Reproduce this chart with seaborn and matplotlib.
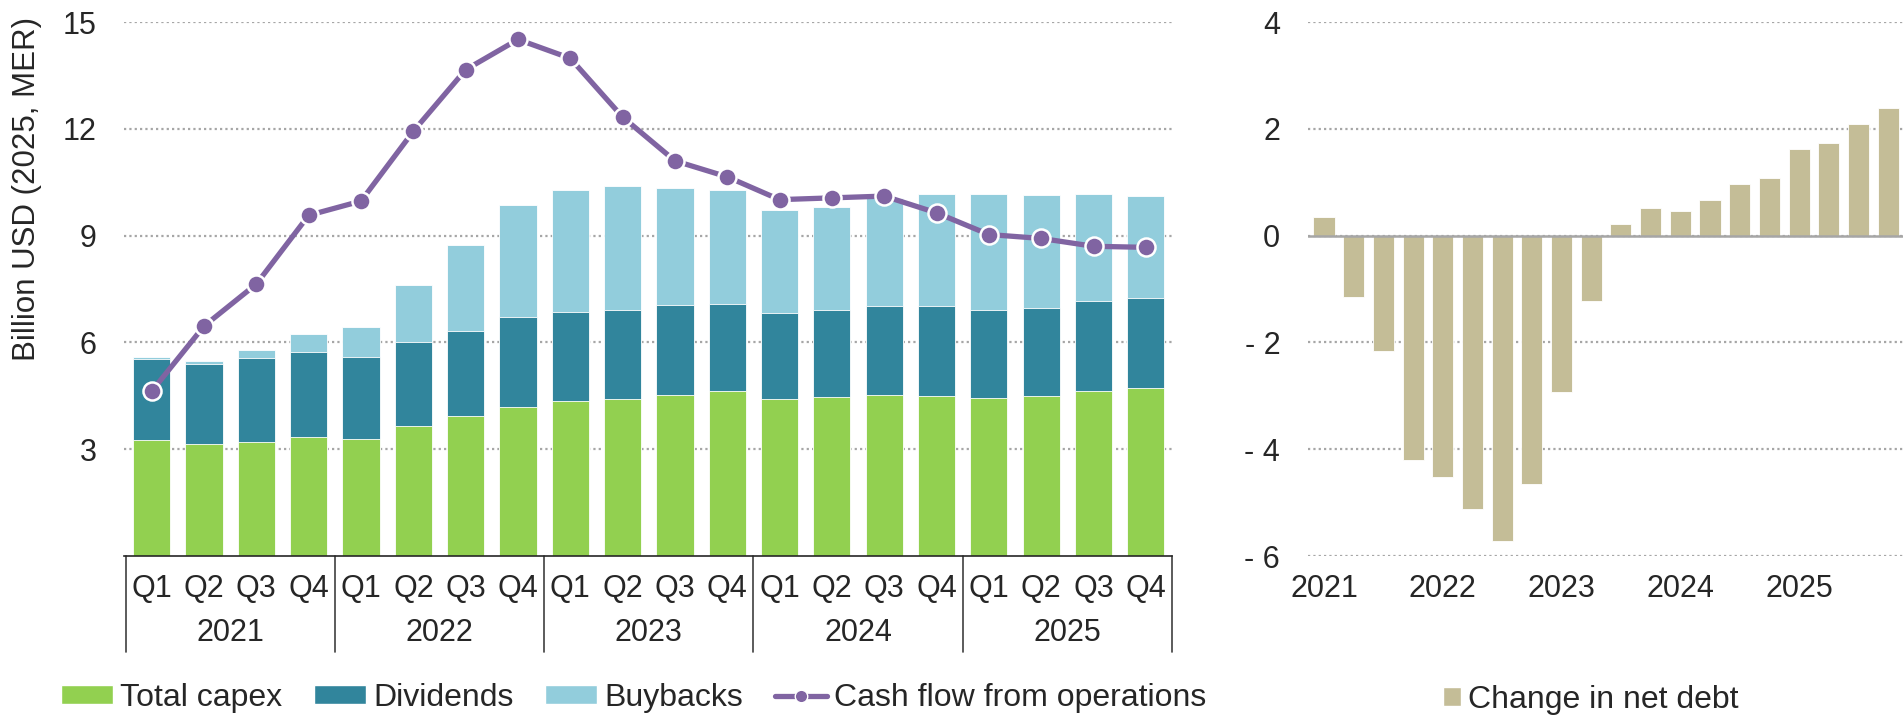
import numpy as np
import pandas as pd
import seaborn as sns
import matplotlib.pyplot as plt
from matplotlib.patches import Patch
from matplotlib.lines import Line2D

years = ["2021", "2022", "2023", "2024", "2025"]
quarters = ["Q1", "Q2", "Q3", "Q4"]

capex = [3.25, 3.15, 3.20, 3.34, 3.29, 3.66, 3.93, 4.18, 4.34, 4.40,
         4.51, 4.63, 4.41, 4.46, 4.53, 4.49, 4.44, 4.50, 4.63, 4.71]
dividends = [2.29, 2.25, 2.37, 2.39, 2.29, 2.35, 2.38, 2.54, 2.51, 2.51,
             2.55, 2.45, 2.42, 2.45, 2.49, 2.53, 2.47, 2.48, 2.52, 2.55]
buybacks = [0.06, 0.07, 0.23, 0.50, 0.85, 1.60, 2.42, 3.13, 3.44, 3.48,
            3.29, 3.19, 2.90, 2.89, 3.05, 3.16, 3.25, 3.17, 3.03, 2.86]
cash_flow_ops = [4.63, 6.46, 7.64, 9.57, 9.97, 11.93, 13.66, 14.51, 13.98, 12.33,
                 11.10, 10.65, 10.01, 10.06, 10.11, 9.64, 9.03, 8.92, 8.70, 8.67]
net_debt_change = [0.34, -1.15, -2.16, -4.20, -4.52, -5.12, -5.71, -4.66, -2.92, -1.23,
                   0.22, 0.51, 0.46, 0.67, 0.96, 1.07, 1.63, 1.74, 2.09, 2.39]

GREEN = "#92D050"
TEAL = "#31859C"
LIGHT = "#92CDDC"
PURPLE = "#8064A2"
TAN = "#C4BD97"
GRID = "#A6A6A6"

sns.set_theme(style="white")
plt.rcParams["font.family"] = ["Liberation Sans", "DejaVu Sans"]
plt.rcParams["font.size"] = 22

keys = [f"{y} {q}" for y in years for q in quarters]
df = pd.DataFrame({"period": keys, "capex": capex, "dividends": dividends,
                   "buybacks": buybacks, "cfo": cash_flow_ops, "debt": net_debt_change})
df["lvl2"] = df["capex"] + df["dividends"]
df["lvl3"] = df["lvl2"] + df["buybacks"]

fig = plt.figure(figsize=(19.03, 7.15), dpi=100)
ax = fig.add_axes([124 / 1903, 159 / 715, (1172 - 124) / 1903, 534 / 715])
ax2 = fig.add_axes([1308 / 1903, 159 / 715, (1903 - 1308) / 1903, 534 / 715])

# stacked bars, drawn from the top of the stack down
for col, c in [("lvl3", LIGHT), ("lvl2", TEAL), ("capex", GREEN)]:
    sns.barplot(data=df, x="period", y=col, order=keys, color=c, saturation=1,
                width=0.71, errorbar=None, edgecolor="white", linewidth=0.6, ax=ax, zorder=2)

ax.plot(np.arange(len(keys)), df["cfo"], color=PURPLE, lw=3.8, marker="o", markersize=13,
        markeredgecolor="white", markeredgewidth=1.8, zorder=4, clip_on=False)

ax.set_xlim(-0.53, 19.5)
ax.set_ylim(0, 15)
ax.set_yticks([3, 6, 9, 12, 15])
ax.yaxis.grid(True, color=GRID, linestyle=(0, (1, 1.4)), lw=1.6, zorder=0)
ax.set_axisbelow(True)
ax.set_xticks(range(len(keys)))
ax.set_xticklabels(quarters * len(years))
ax.tick_params(axis="both", length=0, labelsize=22)
ax.tick_params(axis="y", pad=19.5)
ax.tick_params(axis="x", pad=13)
ax.set_xlabel("")
ax.set_ylabel("Billion USD (2025, MER)", fontsize=22.5)
ax.yaxis.set_label_coords(-0.078, 0.687)
for s in ["left", "right", "top"]:
    ax.spines[s].set_visible(False)
ax.spines["bottom"].set_color("#262626")
ax.spines["bottom"].set_linewidth(1.2)

# year boxes below the quarters
trans = ax.get_xaxis_transform()
for i in range(len(years) + 1):
    ax.plot([i * 4 - 0.5, i * 4 - 0.5], [0, -0.18], transform=trans, color="#404040",
            lw=1.2, clip_on=False)
for i, y in enumerate(years):
    ax.text(i * 4 + 1.5, -0.144, y, transform=trans, ha="center", va="center", fontsize=22)

# right panel: change in net debt
sns.barplot(data=df, x="period", y="debt", order=keys, color=TAN, saturation=1, width=0.71,
            errorbar=None, edgecolor="white", linewidth=0.6, ax=ax2, zorder=2)
ax2.axhline(0, color=GRID, lw=1.8, zorder=3)
ax2.set_xlim(-0.54, 19.5)
ax2.set_ylim(-6, 4)
ax2.set_yticks([-6, -4, -2, 0, 2, 4])
ax2.set_yticklabels(["- 6", "- 4", "- 2", "0", "2", "4"])
ax2.set_xticks([0, 4, 8, 12, 16])
ax2.set_xticklabels(years)
ax2.yaxis.grid(True, color=GRID, linestyle=(0, (1, 1.4)), lw=1.6, zorder=0)
ax2.set_axisbelow(True)
ax2.tick_params(axis="both", length=0, labelsize=22)
ax2.tick_params(axis="y", pad=20)
ax2.tick_params(axis="x", pad=13)
ax2.set_xlabel("")
ax2.set_ylabel("")
for s in ax2.spines.values():
    s.set_visible(False)

handles = [Patch(facecolor=GREEN), Patch(facecolor=TEAL), Patch(facecolor=LIGHT),
           Line2D([], [], color=PURPLE, lw=3.8, marker="o", markersize=9,
                  markeredgecolor="white", markeredgewidth=1)]
fig.legend(handles, ["Total capex", "Dividends", "Buybacks", "Cash flow from operations"],
           loc="center", bbox_to_anchor=(0.333, 0.024), ncol=4, frameon=False, fontsize=23,
           handlelength=1.63, handleheight=0.5, handletextpad=0.22, columnspacing=1.0,
           borderpad=0)
fig.legend([Patch(facecolor=TAN)], ["Change in net debt"], loc="center",
           bbox_to_anchor=(0.836, 0.021), frameon=False, fontsize=23,
           handlelength=0.56, handleheight=0.56, handletextpad=0.22, borderpad=0)

fig.savefig("out.png", dpi=100)
